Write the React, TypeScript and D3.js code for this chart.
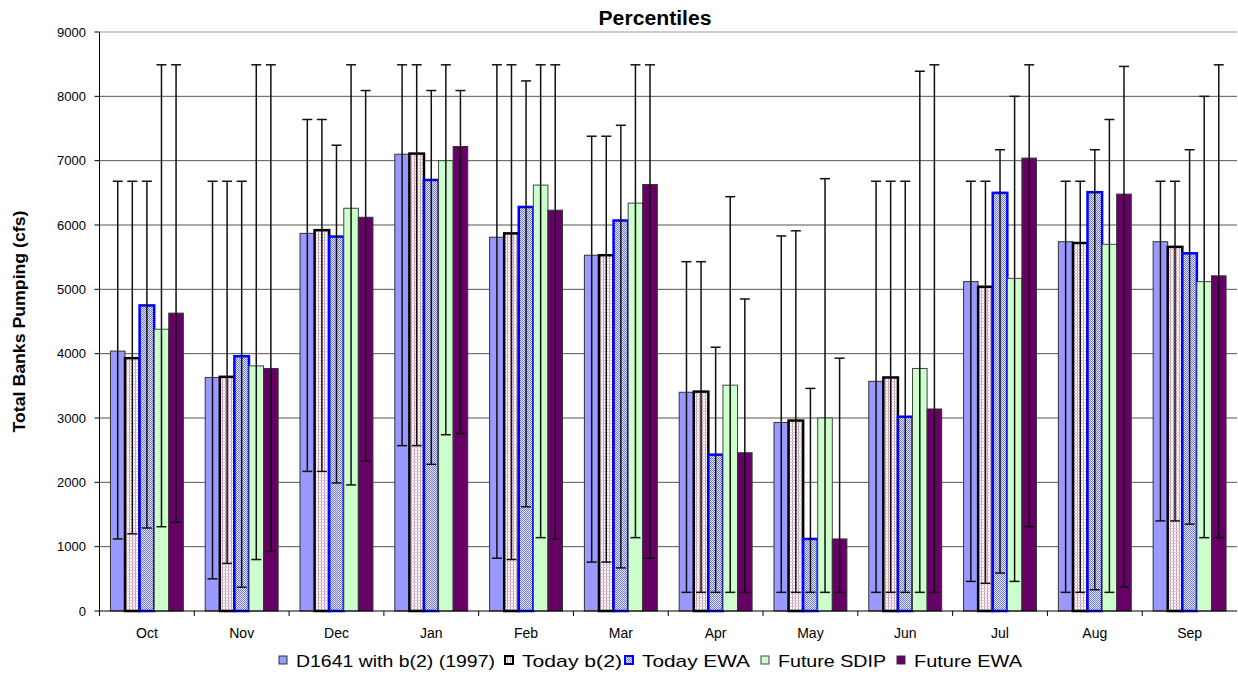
import React from 'react';
import * as d3 from 'd3';

const months = ['Oct', 'Nov', 'Dec', 'Jan', 'Feb', 'Mar', 'Apr', 'May', 'Jun', 'Jul', 'Aug', 'Sep'];
const seriesNames = ['D1641 with b(2) (1997)', 'Today b(2)', 'Today EWA', 'Future SDIP', 'Future EWA'];
const yTicks = [0, 1000, 2000, 3000, 4000, 5000, 6000, 7000, 8000, 9000];

const d1641Value = [4040, 3630, 5870, 7100, 5810, 5530, 3400, 2930, 3570, 5120, 5740, 5740];
const d1641High = [6680, 6680, 7640, 8490, 8490, 7380, 5430, 5830, 6680, 6680, 6680, 6680];
const d1641Low = [1120, 500, 2170, 2570, 820, 760, 290, 290, 290, 460, 290, 1400];

const todayB2Value = [3930, 3640, 5920, 7110, 5870, 5530, 3410, 2960, 3630, 5040, 5720, 5660];
const todayB2High = [6680, 6680, 7640, 8490, 8490, 7380, 5430, 5910, 6680, 6680, 6680, 6680];
const todayB2Low = [1200, 740, 2170, 2570, 800, 760, 290, 290, 290, 430, 290, 1400];

const todayEwaValue = [4750, 3960, 5820, 6700, 6280, 6070, 2430, 1120, 3020, 6500, 6510, 5560];
const todayEwaHigh = [6680, 6680, 7240, 8090, 8240, 7550, 4100, 3460, 6680, 7170, 7170, 7170];
const todayEwaLow = [1290, 370, 1990, 2280, 1620, 670, 290, 290, 290, 590, 330, 1350];

const futureSdipValue = [4380, 3810, 6260, 7000, 6620, 6340, 3510, 3000, 3770, 5170, 5700, 5120];
const futureSdipHigh = [8490, 8490, 8490, 8490, 8490, 8490, 6440, 6720, 8390, 8000, 7640, 8000];
const futureSdipLow = [1310, 800, 1960, 2740, 1140, 1140, 290, 290, 290, 460, 290, 1140];

const futureEwaValue = [4630, 3770, 6120, 7220, 6230, 6630, 2460, 1120, 3140, 7040, 6480, 5210];
const futureEwaHigh = [8490, 8490, 8090, 8090, 8490, 8490, 4850, 3930, 8490, 8490, 8465, 8490];
const futureEwaLow = [1380, 930, 2330, 2760, 1120, 820, 290, 290, 290, 1310, 375, 1140];

const seriesValues = [d1641Value, todayB2Value, todayEwaValue, futureSdipValue, futureEwaValue];
const seriesHighs = [d1641High, todayB2High, todayEwaHigh, futureSdipHigh, futureEwaHigh];
const seriesLows = [d1641Low, todayB2Low, todayEwaLow, futureSdipLow, futureEwaLow];

const fills = ['#9999FF', 'url(#patB2)', 'url(#patEwa)', '#CCFFCC', '#660066'];
const strokes = ['#333333', '#000000', '#0000FF', '#444444', '#333333'];
const strokeWidths = [1, 2.5, 2.5, 1, 1];

const W = 1238;
const H = 677;
const left = 99.5;
const right = 1237;
const top = 32;
const bottom = 611;
const FONT = 'Liberation Sans, Arial, sans-serif';

export default function App() {
  const x0 = d3.scaleBand<string>().domain(months).range([left, right]).paddingInner(0).paddingOuter(0);
  const bw = x0.bandwidth();
  const barW = bw / 6.5;
  const x1 = d3.scaleBand<string>().domain(seriesNames).range([0.75 * barW, bw - 0.75 * barW]).padding(0);
  const y = d3.scaleLinear().domain([0, 9000]).range([bottom, top]);

  const legendX = [279, 505, 625, 761, 897];
  const legendTextW = [199, 100, 108, 108, 108];

  return (
    <svg width={W} height={H} style={{ position: 'absolute', left: 0, top: 0, background: '#fff' }} fontFamily={FONT}>
      <defs>
        <pattern id="patB2" width="3" height="3" patternUnits="userSpaceOnUse">
          <rect width="3" height="3" fill="#ffffff" />
          <rect x="0" y="0" width="1" height="3" fill="#C89AB0" />
          <rect x="0" y="0" width="3" height="1" fill="#E2C4D2" />
        </pattern>
        <pattern id="patEwa" width="2" height="2" patternUnits="userSpaceOnUse">
          <rect width="2" height="2" fill="#E6E8FF" />
          <rect x="0" y="0" width="1" height="1" fill="#7078D8" />
          <rect x="1" y="1" width="1" height="1" fill="#7078D8" />
        </pattern>
      </defs>

      {/* gridlines */}
      {yTicks.filter(t => t > 0).map(t => (
        <line key={'g' + t} x1={left} x2={right} y1={y(t)} y2={y(t)} stroke={t === 9000 ? '#999' : '#555'} strokeWidth={1} />
      ))}

      {/* bars */}
      {seriesNames.map((s, si) => (
        <g key={s}>
          {months.map((m, mi) => {
            const bx = (x0(m) as number) + (x1(s) as number);
            const v = seriesValues[si][mi];
            return (
              <rect key={m} x={bx} y={y(v)} width={x1.bandwidth()} height={y(0) - y(v)}
                fill={fills[si]} stroke={strokes[si]} strokeWidth={strokeWidths[si]} />
            );
          })}
        </g>
      ))}

      {/* error bars */}
      {seriesNames.map((s, si) => (
        <g key={'e' + s} stroke="#111" strokeWidth={1.5}>
          {months.map((m, mi) => {
            const cx = (x0(m) as number) + (x1(s) as number) + x1.bandwidth() / 2;
            const hi = y(seriesHighs[si][mi]);
            const lo = y(seriesLows[si][mi]);
            return (
              <g key={m}>
                <line x1={cx} x2={cx} y1={hi} y2={lo} />
                <line x1={cx - 5} x2={cx + 5} y1={hi} y2={hi} />
                <line x1={cx - 5} x2={cx + 5} y1={lo} y2={lo} />
              </g>
            );
          })}
        </g>
      ))}

      {/* axes */}
      <line x1={left} x2={left} y1={top} y2={bottom} stroke="#000" strokeWidth={1} />
      <line x1={left} x2={right} y1={bottom} y2={bottom} stroke="#000" strokeWidth={1} />
      {yTicks.map(t => (
        <g key={'yt' + t}>
          <line x1={left - 5} x2={left} y1={y(t)} y2={y(t)} stroke="#000" />
          <text x={86} y={y(t) + 4.5} textAnchor="end" fontSize={13} fill="#000">{t}</text>
        </g>
      ))}
      {months.map(m => (
        <line key={'xt' + m} x1={x0(m) as number} x2={x0(m) as number} y1={bottom} y2={bottom + 5} stroke="#000" />
      ))}
      {months.map(m => (
        <text key={'xl' + m} x={(x0(m) as number) + bw / 2} y={638} textAnchor="middle" fontSize={14} fill="#000">{m}</text>
      ))}

      {/* title */}
      <text x={655} y={25} textAnchor="middle" fontSize={20} fontWeight="bold" fill="#000" textLength={113} lengthAdjust="spacingAndGlyphs">Percentiles</text>

      {/* y label */}
      <text transform={`translate(25, ${(top + bottom) / 2}) rotate(-90)`} textAnchor="middle" fontSize={17} fontWeight="bold" fill="#000" textLength={222} lengthAdjust="spacingAndGlyphs">Total Banks Pumping (cfs)</text>

      {/* legend */}
      {seriesNames.map((s, si) => (
        <g key={'lg' + s}>
          <rect x={legendX[si]} y={656} width={8} height={8} fill={fills[si]} stroke={strokes[si]} strokeWidth={si === 1 || si === 2 ? 2 : 1} />
          <text x={legendX[si] + 17} y={667} fontSize={17} fill="#000" textLength={legendTextW[si]} lengthAdjust="spacingAndGlyphs">{s}</text>
        </g>
      ))}
    </svg>
  );
}
